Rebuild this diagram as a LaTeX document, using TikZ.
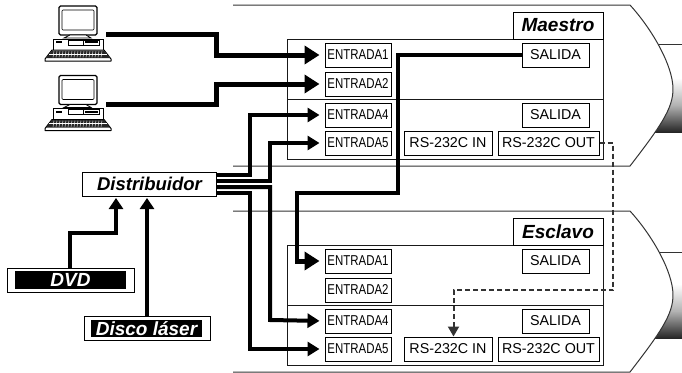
\documentclass[tikz,border=0pt]{standalone}
\usepackage{fontspec}
\setmainfont{Liberation Sans}
\usetikzlibrary{arrows.meta,calc}
\tikzset{
  x=1pt,y=-1pt,
  box/.style={draw=black,line width=1pt,fill=white,inner sep=0pt,font=\fontsize{14.3}{14.3}\selectfont},
  inbox/.style={box,minimum width=66pt,minimum height=24pt},
  outbox/.style={box,minimum width=67pt,minimum height=24pt},
  rsin/.style={box,minimum width=88pt,minimum height=24pt},
  rsout/.style={box,minimum width=101pt,minimum height=24pt},
  title/.style={box,minimum width=90pt,minimum height=27pt,font=\fontsize{19}{19}\selectfont\bfseries\itshape},
  frame/.style={draw=black!80,line width=1pt},
  panel/.style={draw=black!90,line width=1pt},
  source/.style={draw=black,line width=1pt,fill=white,inner sep=0pt},
  blackbar/.style={fill=black,text=white,inner sep=0pt,font=\fontsize{19}{19}\selectfont\bfseries\itshape},
  big/.style={draw=black,line width=5pt,-{Triangle[length=15pt,width=18pt]},shorten >=5pt},
  mid/.style={draw=black,line width=4pt,-{Triangle[length=12pt,width=14pt]},shorten >=5pt},
  up/.style={draw=black,line width=3.5pt,-{Triangle[length=11pt,width=14pt]},shorten >=1.5pt},
  link/.style={draw=black!80,line width=2pt,dash pattern=on 5pt off 3pt,-{Triangle[length=10pt,width=11pt]}},
  pics/computer/.style={code={
    \draw[line width=1.2pt,fill=white,rounded corners=1.5pt] (59,6) rectangle (97,35);
    \draw[line width=0.7pt,rounded corners=1pt] (62,10) rectangle (94,30);
    \draw[line width=0.8pt,fill=white] (64,38) -- (70,35) -- (86,35) -- (91,38) -- cycle;
    \draw[line width=1pt,fill=white] (53,39) rectangle (103,50);
    \draw[line width=0.7pt] (68,40) rectangle (83,45);
    \draw[line width=0.7pt] (83,40) rectangle (99,45);
    \fill (85,41) rectangle (98,43);
    \fill (56,41) rectangle (62,43);
    \draw[line width=1pt,fill=white,line join=round] (52,50) -- (104,50) -- (111,59) -- (111,61) -- (45,61) -- (45,59) -- cycle;
    \fill[black!85] (52,50.5) -- (104,50.5) -- (110,58) -- (46,58) -- cycle;
    \foreach \k in {54,57,...,102} {\draw[white,line width=0.4pt] (\k,51) -- (\k-1,57.5);}
    \draw[white,line width=0.4pt] (49,54) -- (107,54);
  }}
}
\begin{document}
\begin{tikzpicture}
\useasboundingbox (0,0) rectangle (682,372);
\foreach \dy/\p/\t/\ly in {0/m/Maestro/44,206/s/Esclavo/46}{
\begin{scope}[yshift=-\dy pt]
  \shade[top color=white,bottom color=black!85,middle color=black!30] (650,78) rectangle (682,132);
  \draw[frame,line width=0.8pt] (655,\ly) -- (682,\ly);
  \draw[frame,fill=white] (233,5) -- (630,5) .. controls (650,27) and (670,60) .. (672.7,84) .. controls (675,105) and (664,122) .. (630,166) -- (233,166);
  \draw[panel,fill=white] (287,39) rectangle (603,159);
  \draw[panel] (287,99) -- (603,99);
  \node[title] (\p t) at (558,25.5) {\t};
  \node[inbox] (\p e1) at (358,55) {\scalebox{0.8}[1]{ENTRADA1}};
  \node[inbox] (\p e2) at (358,84) {\scalebox{0.8}[1]{ENTRADA2}};
  \node[inbox] (\p e4) at (358,115) {\scalebox{0.8}[1]{ENTRADA4}};
  \node[inbox] (\p e5) at (358,143) {\scalebox{0.8}[1]{ENTRADA5}};
  \node[outbox] (\p o1) at (555.5,55) {SALIDA};
  \node[outbox] (\p o2) at (555.5,115) {SALIDA};
  \node[rsin] (\p i) at (448,143) {RS-232C IN};
  \node[rsout] (\p r) at (548.5,143) {RS-232C OUT};
\end{scope}
}
\pic (pca) at (0,0) {computer};
\pic (pcb) at (0,-69.5pt) {computer};
\coordinate (pa) at (106,34);
\coordinate (pb) at (106,104);
\node[source,minimum width=134pt,minimum height=24pt,font=\fontsize{18.5}{18.5}\selectfont\bfseries\itshape] (dist) at (149.5,184) {Distribuidor};
\node[source,minimum width=127pt,minimum height=24pt] (dvd) at (70.5,280) {};
\node[blackbar,minimum width=111pt,minimum height=18pt] (dvdt) at (70.5,280) {DVD};
\node[source,minimum width=126pt,minimum height=24pt] (ld) at (147,328.5) {};
\node[blackbar,minimum width=111pt,minimum height=17pt] (ldt) at (146.5,328.5) {Disco láser};
\coordinate (d1) at (216,175);
\coordinate (d2) at (216,181);
\coordinate (d3) at (216,187);
\coordinate (d4) at (216,193);
% computers
\draw[big] (pa) -| (216,55) -- (me1.west);
\draw[big] (pb) -| (216,84) -- (me2.west);
% distributor outputs
\draw[mid] (d1) -| (250,115) -- (me4.west);
\draw[mid] (d2) -| (270,143) -- (me5.west);
\draw[mid] (d3) -| (270,320) -- (se4.west);
\draw[mid] (d4) -| (250,349) -- (se5.west);
% monitor out
\draw[draw=black,line width=4.5pt] (mo1.west) -- (398,55) -- (398,193) -- (297,193) -- (297,261);
\draw[big] (295,261) -- (se1.west);
% sources
\draw[up] (dvd.north -| 70,0) |- (116,233) -- (dist.south -| 116,0);
\draw[up] (ld.north) -- (dist.south -| ld.north);
% control link
\draw[link] (mr.east) -- (613,143) -- (613,290) -- (453.5,290) -- (si.north -| 453.5,0);
\end{tikzpicture}
\end{document}
